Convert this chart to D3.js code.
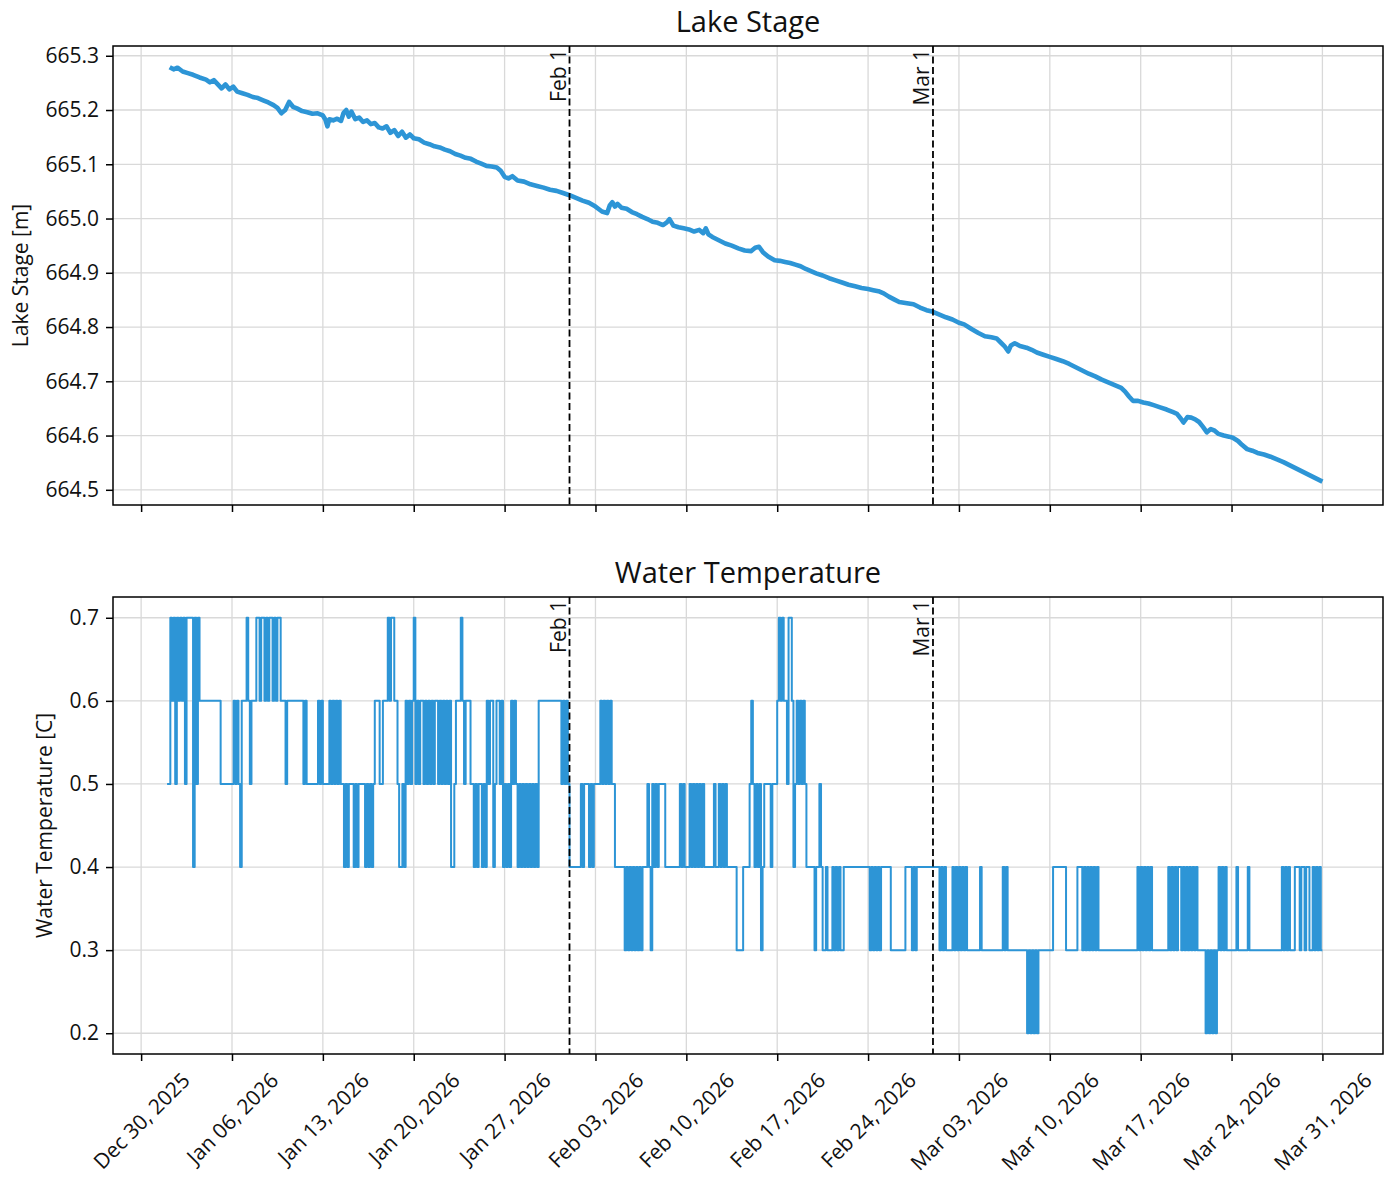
<!DOCTYPE html>
<html>
<head>
<meta charset="utf-8">
<title>Lake Stage / Water Temperature</title>
<script src="https://d3js.org/d3.v7.min.js"></script>
<style>
body { margin: 0; background: #fff; }
svg text { font-family: "Open Sans", "Noto Sans", sans-serif; fill: #111; }
</style>
</head>
<body>
<svg id="chart" width="1392" height="1178"></svg>
<script>
// ---- data ----

// lake stage: [days after 2026-01-01 00:00 UTC, stage in m]
var stageReadings = [
	[0.2,665.279],[0.5,665.275],[0.8,665.278],[1.2,665.271],[1.6,665.268],[2.0,665.265],[2.5,665.260],
	[3.0,665.256],[3.3,665.251],[3.6,665.255],[4.0,665.245],[4.2,665.240],[4.5,665.247],[4.8,665.238],
	[5.1,665.243],[5.4,665.234],[5.8,665.231],[6.2,665.228],[6.6,665.224],[7.0,665.222],[7.4,665.218],
	[7.8,665.214],[8.2,665.209],[8.5,665.204],[8.8,665.194],[9.1,665.200],[9.4,665.215],[9.7,665.206],
	[10.0,665.203],[10.4,665.198],[10.8,665.196],[11.2,665.193],[11.6,665.194],[12.0,665.190],[12.2,665.182],
	[12.35,665.170],[12.5,665.183],[12.8,665.181],[13.1,665.184],[13.4,665.180],[13.6,665.195],[13.8,665.200],
	[14.0,665.188],[14.2,665.197],[14.5,665.183],[14.8,665.186],[15.1,665.178],[15.4,665.181],[15.7,665.174],
	[16.0,665.176],[16.3,665.168],[16.6,665.166],[16.9,665.170],[17.2,665.158],[17.5,665.163],[17.8,665.152],
	[18.1,665.160],[18.4,665.149],[18.7,665.155],[19.0,665.148],[19.4,665.146],[19.8,665.140],[20.2,665.137],
	[20.6,665.133],[21.0,665.131],[21.4,665.127],[21.8,665.124],[22.2,665.119],[22.6,665.116],[23.0,665.112],
	[23.4,665.110],[23.8,665.105],[24.2,665.101],[24.6,665.097],[25.0,665.096],[25.4,665.094],[25.7,665.088],
	[26.0,665.077],[26.3,665.074],[26.6,665.078],[27.0,665.070],[27.5,665.068],[28.0,665.063],[28.5,665.060],
	[29.0,665.057],[29.5,665.053],[30.0,665.051],[30.5,665.047],[31.0,665.043],[31.5,665.038],[32.0,665.033],
	[32.5,665.029],[33.0,665.022],[33.5,665.013],[33.9,665.010],[34.1,665.024],[34.3,665.030],[34.5,665.022],
	[34.7,665.027],[35.0,665.020],[35.4,665.018],[35.8,665.012],[36.2,665.008],[36.6,665.003],[37.0,664.999],
	[37.4,664.994],[37.8,664.992],[38.2,664.988],[38.5,664.993],[38.7,664.999],[39.0,664.987],[39.4,664.984],
	[39.8,664.982],[40.2,664.980],[40.6,664.976],[41.0,664.979],[41.3,664.973],[41.5,664.982],[41.7,664.971],
	[42.0,664.966],[42.5,664.960],[43.0,664.954],[43.5,664.950],[44.0,664.945],[44.5,664.941],[45.0,664.940],
	[45.3,664.946],[45.6,664.948],[45.9,664.938],[46.3,664.930],[46.8,664.923],[47.2,664.922],[47.6,664.920],
	[48.0,664.918],[48.4,664.915],[48.8,664.912],[49.2,664.907],[49.6,664.903],[50.0,664.899],[50.5,664.895],
	[51.0,664.890],[51.5,664.886],[52.0,664.882],[52.5,664.878],[53.0,664.875],[53.5,664.872],[54.0,664.870],
	[54.4,664.868],[54.8,664.866],[55.2,664.862],[55.6,664.856],[56.0,664.851],[56.4,664.846],[57.0,664.844],
	[57.5,664.842],[58.0,664.836],[58.5,664.831],[59.0,664.828],[59.5,664.823],[60.0,664.818],[60.5,664.814],
	[61.0,664.808],[61.4,664.805],[62.0,664.796],[62.5,664.789],[63.0,664.783],[63.5,664.781],[63.9,664.779],
	[64.2,664.772],[64.5,664.765],[64.8,664.755],[65.0,664.766],[65.3,664.770],[65.7,664.765],[66.2,664.762],
	[66.6,664.758],[67.0,664.753],[67.5,664.749],[68.0,664.745],[68.5,664.741],[69.0,664.737],[69.5,664.732],
	[70.0,664.726],[70.5,664.720],[71.0,664.714],[71.5,664.709],[72.0,664.703],[72.5,664.698],[73.0,664.693],
	[73.5,664.688],[73.8,664.681],[74.1,664.672],[74.4,664.664],[74.8,664.664],[75.2,664.661],[75.6,664.659],
	[76.0,664.656],[76.5,664.652],[77.0,664.648],[77.5,664.643],[77.8,664.640],[78.1,664.631],[78.3,664.624],
	[78.6,664.634],[78.9,664.633],[79.2,664.630],[79.5,664.625],[79.8,664.616],[80.1,664.606],[80.4,664.612],
	[80.7,664.609],[81.0,664.603],[81.4,664.600],[81.8,664.598],[82.1,664.596],[82.5,664.590],[82.8,664.583],
	[83.2,664.575],[83.6,664.572],[84.0,664.568],[84.5,664.565],[85.0,664.561],[85.5,664.556],[86.0,664.551],
	[86.5,664.545],[87.0,664.539],[87.5,664.533],[88.0,664.527],[88.5,664.521],[89.0,664.515]
];

// water temperature, 3-hourly from 2026-01-01 00:00 UTC, one row per day, in tenths of a degree C
var tempTenths = [
	[5,5,7,6,7,5,7,6], [7,6,7,5,7,7,7,7], [4,7,5,7,6,6,6,6], [6,6,6,6,6,6,6,6], [6,5,5,5,5,5,5,5],   // Jan 1-5
	[5,6,5,6,5,4,6,6], [6,7,6,5,6,6,6,7], [7,6,7,7,6,7,6,7], [7,6,7,6,7,7,6,6], [6,5,6,6,6,6,6,6],   // Jan 6-10
	[6,6,6,6,5,6,5,5], [5,5,5,5,5,6,5,6], [5,5,5,5,6,5,6,5], [6,5,6,5,5,4,5,4], [5,5,5,4,5,4,5,5],   // Jan 11-15
	[5,5,4,5,4,5,4,5], [6,6,6,5,5,6,6,6], [7,6,7,7,6,6,5,4], [4,5,4,6,5,6,5,6], [7,5,6,5,6,6,5,6],   // Jan 16-20
	[5,6,5,6,5,6,6,5], [6,5,6,5,6,5,6,4], [4,5,6,6,6,7,6,5], [6,6,6,5,5,4,5,4], [5,5,4,5,4,6,5,6],   // Jan 21-25
	[6,4,5,6,6,5,6,4], [5,4,5,4,6,5,6,5], [4,5,4,5,4,5,4,5], [4,5,4,5,4,6,6,6], [6,6,6,6,6,6,6,6],   // Jan 26-30
	[6,6,6,5,6,5,6,5],                                                                                // Jan 31
	[4,4,4,4,4,4,4,5], [4,5,5,5,4,5,4,5], [5,5,5,6,5,6,5,6], [5,6,5,5,4,4,4,4], [4,4,3,4,3,4,3,4],   // Feb 1-5
	[3,4,3,4,3,4,4,4], [5,4,3,5,4,5,4,5], [5,5,5,4,4,4,4,4], [4,4,4,4,5,4,5,4], [4,4,5,4,5,4,5,4],   // Feb 6-10
	[5,4,5,4,4,4,4,4], [4,5,4,4,5,4,5,4], [5,4,4,4,4,4,4,3], [3,3,3,4,4,4,4,5], [6,5,4,5,4,5,3,4],   // Feb 11-15
	[5,5,5,5,4,5,5,5], [6,7,6,7,6,6,5,7], [7,6,4,5,6,5,6,5], [6,5,4,4,4,4,4,3], [4,4,5,4,3,3,4,3],   // Feb 16-20
	[3,3,4,3,4,3,4,3], [3,4,4,4,4,4,4,4], [4,4,4,4,4,4,4,4], [4,3,4,3,4,3,4,3], [4,4,4,4,4,4,3,3],   // Feb 21-25
	[3,3,3,3,3,3,3,4], [4,4,4,3,4,3,4,4], [4,4,4,4,4,4,4,4],                                          // Feb 26-28
	[4,4,4,4,3,4,3,4], [3,3,3,3,4,3,4,3], [4,3,4,3,4,3,3,3], [3,3,3,3,3,4,3,3], [3,3,3,3,3,3,3,3],   // Mar 1-5
	[3,3,3,4,3,4,3,3], [3,3,3,3,3,3,3,3], [3,3,2,3,2,3,2,3], [2,3,3,3,3,3,3,3], [3,3,4,4,4,4,4,4],   // Mar 6-10
	[4,4,3,3,3,3,3,3], [3,4,4,4,3,4,3,4], [3,4,3,4,3,4,3,3], [3,3,3,3,3,3,3,3], [3,3,3,3,3,3,3,3],   // Mar 11-15
	[3,3,3,3,3,3,4,3], [4,3,4,3,4,3,4,3], [3,3,3,3,3,3,3,3], [3,4,3,4,3,4,3,4], [4,3,4,3,4,3,4,3],   // Mar 16-20
	[4,3,4,3,3,3,3,3], [2,3,2,3,2,3,2,3], [4,3,4,3,4,3,3,3], [3,3,3,4,3,3,3,3], [3,3,4,3,3,3,3,3],   // Mar 21-25
	[3,3,3,3,3,3,3,3], [3,3,3,3,3,3,3,4], [3,4,3,4,3,3,3,4], [4,4,3,4,4,3,4,4], [3,3,4,3,4,3,4,3],   // Mar 26-30
	[3]                                                                                               // Mar 31
];

var weekTicks = ["2025-12-30", "2026-01-06", "2026-01-13", "2026-01-20", "2026-01-27", "2026-02-03", "2026-02-10",
	"2026-02-17", "2026-02-24", "2026-03-03", "2026-03-10", "2026-03-17", "2026-03-24", "2026-03-31"];
var stageTicks = [664.5, 664.6, 664.7, 664.8, 664.9, 665.0, 665.1, 665.2, 665.3];
var tempTicks = [0.2, 0.3, 0.4, 0.5, 0.6, 0.7];
var markDays = ["2026-02-01", "2026-03-01"];
var markLabels = ["Feb 1", "Mar 1"];

// ---- setup ----
var DAY = 864e5, HOUR = 36e5;
var dayZero = Date.UTC(2026, 0, 1);
var parseDay = d3.utcParse("%Y-%m-%d");
var lineColor = "#2d95d6",
	gridColor = "#d9d9d9";
var left = 113, right = 1383;
var fontSize = 21;

var stageData = stageReadings.map(function(r) {
	return {date: new Date(dayZero + r[0] * DAY), value: r[1]};
});

var tempData = [];
tempTenths.forEach(function(row, i) {
	row.forEach(function(v, j) {
		tempData.push({date: new Date(dayZero + (i * 8 + j) * 3 * HOUR), value: v / 10});
	});
});

var weekDates = weekTicks.map(parseDay);
var markDates = markDays.map(parseDay);

var x = d3.scaleUtc()
	.domain([new Date(Date.UTC(2025, 11, 27, 20)), new Date(Date.UTC(2026, 3, 4, 16))])
	.range([left, right]);

var panels = [
	{title: "Lake Stage", ylabel: "Lake Stage [m]", top: 46, bottom: 505, data: stageData,
		ticks: stageTicks, domain: [664.472, 665.318], width: 4.6, curve: d3.curveLinear, xlabels: false},
	{title: "Water Temperature", ylabel: "Water Temperature [C]", top: 597, bottom: 1054, data: tempData,
		ticks: tempTicks, domain: [0.175, 0.725], width: 2, curve: d3.curveStepAfter, xlabels: true}
];

var svg = d3.select("#chart");

panels.forEach(function(p) {
	var y = d3.scaleLinear().domain(p.domain).range([p.bottom, p.top]);
	var g = svg.append("g");

	// grid
	g.append("g").selectAll("line").data(weekDates).join("line")
		.attr("x1", function(d) { return x(d); }).attr("x2", function(d) { return x(d); })
		.attr("y1", p.top).attr("y2", p.bottom)
		.attr("stroke", gridColor).attr("stroke-width", 1.3);
	g.append("g").selectAll("line").data(p.ticks).join("line")
		.attr("x1", left).attr("x2", right)
		.attr("y1", function(d) { return y(d); }).attr("y2", function(d) { return y(d); })
		.attr("stroke", gridColor).attr("stroke-width", 1.3);

	// series
	var line = d3.line().curve(p.curve)
		.x(function(d) { return x(d.date); })
		.y(function(d) { return y(d.value); });
	g.append("path").datum(p.data)
		.attr("d", line)
		.attr("fill", "none")
		.attr("stroke", lineColor)
		.attr("stroke-width", p.width)
		.attr("stroke-linejoin", "round");

	// month start markers
	markDates.forEach(function(d, i) {
		g.append("line")
			.attr("x1", x(d)).attr("x2", x(d)).attr("y1", p.top).attr("y2", p.bottom)
			.attr("stroke", "#000").attr("stroke-width", 1.8)
			.attr("stroke-dasharray", "7,3.5");
		g.append("text")
			.attr("transform", "translate(" + (x(d) - 4) + "," + (p.top + 3) + ") rotate(-90)")
			.attr("text-anchor", "end")
			.style("font-size", fontSize + "px")
			.text(markLabels[i]);
	});

	// frame
	g.append("rect")
		.attr("x", left).attr("y", p.top)
		.attr("width", right - left).attr("height", p.bottom - p.top)
		.attr("fill", "none").attr("stroke", "#000").attr("stroke-width", 1.5);

	// axes
	var xAxis = d3.axisBottom(x).tickValues(weekDates).tickSize(7).tickPadding(7)
		.tickFormat(p.xlabels ? d3.utcFormat("%b %d, %Y") : "");
	var gx = g.append("g").attr("transform", "translate(0," + p.bottom + ")").call(xAxis);
	var yAxis = d3.axisLeft(y).tickValues(p.ticks).tickSize(7).tickPadding(7).tickFormat(d3.format(".1f"));
	var gy = g.append("g").attr("transform", "translate(" + left + ",0)").call(yAxis);

	[gx, gy].forEach(function(a) {
		a.select(".domain").remove();
		a.selectAll(".tick line").attr("stroke", "#000").attr("stroke-width", 1.5);
		a.selectAll(".tick text").style("font-size", fontSize + "px");
	});

	if (p.xlabels) {
		//rotated 45 deg, box centred under the tick like matplotlib
		gx.selectAll(".tick text").each(function() {
			var len = this.getComputedTextLength(), h = 24;
			var c = 14 + (len + h) * Math.SQRT1_2 / 2;
			d3.select(this)
				.attr("y", 0).attr("dy", "0.35em")
				.attr("text-anchor", "middle")
				.attr("transform", "translate(0," + c + ") rotate(-45)");
		});
	}

	// title + y label
	g.append("text")
		.attr("x", (left + right) / 2).attr("y", p.top - 14)
		.attr("text-anchor", "middle")
		.style("font-size", "29px")
		.text(p.title);

	var bb = gy.node().getBBox();
	var lx = left + bb.x - 17;
	g.append("text")
		.attr("transform", "translate(" + lx + "," + (p.top + p.bottom) / 2 + ") rotate(-90)")
		.attr("text-anchor", "middle")
		.style("font-size", fontSize + "px")
		.text(p.ylabel);
});
</script>
</body>
</html>
